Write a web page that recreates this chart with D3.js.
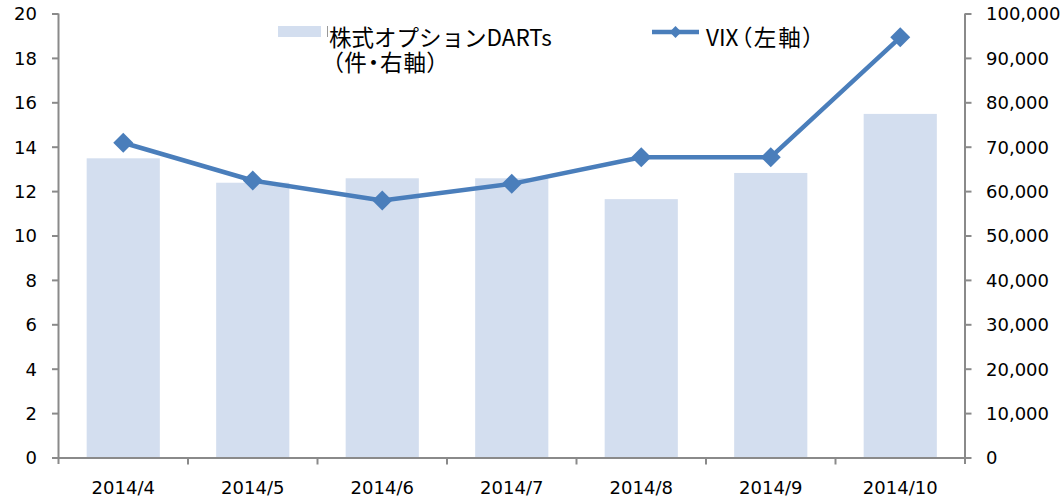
<!DOCTYPE html>
<html>
<head>
<meta charset="utf-8">
<script src="https://cdn.jsdelivr.net/npm/d3@7"></script>
<style>
  html, body { margin: 0; padding: 0; background: #ffffff; }
  svg { display: block; }
</style>
</head>
<body>
<svg id="chart" width="1060" height="502"></svg>
<script>
// ---- data ----
const categories = ["2014/4", "2014/5", "2014/6", "2014/7", "2014/8", "2014/9", "2014/10"];
const dartsValues = [67500, 62000, 63000, 63000, 58300, 64200, 77500];   // right axis (件)
const vixValues   = [14.2, 12.5, 11.6, 12.35, 13.55, 13.55, 18.95];       // left axis
const leftTicks  = [0, 2, 4, 6, 8, 10, 12, 14, 16, 18, 20];
const rightTicks = [0, 10000, 20000, 30000, 40000, 50000, 60000, 70000, 80000, 90000, 100000];
const legendBarLabel = ["株式オプションDARTs", "（件・右軸）"];
const legendLineLabel = ["VIX", "（左軸）"];

(function () {
// ---- layout ----
const svg = d3.select("#chart");
const pLeft = 58.5, pRight = 965, pTop = 14, pBottom = 458;
const axisColor = "#8a8a8a";
const barColor = "#d3deef";
const lineColor = "#4a7ebb";
const numFont = "'DejaVu Sans', sans-serif";
const cjkFont = "'Noto Sans CJK JP', sans-serif";

const x = d3.scaleBand().domain(categories).range([pLeft, pRight]).padding(0);
const yL = d3.scaleLinear().domain([0, 20]).range([pBottom, pTop]);
const yR = d3.scaleLinear().domain([0, 100000]).range([pBottom, pTop]);
const barW = x.bandwidth() * 0.565;

// bars
svg.append("g").selectAll("rect")
  .data(categories)
  .join("rect")
  .attr("x", (d) => x(d) + (x.bandwidth() - barW) / 2)
  .attr("y", (d, i) => yR(dartsValues[i]))
  .attr("width", barW)
  .attr("height", (d, i) => pBottom - yR(dartsValues[i]))
  .attr("fill", barColor);

// left axis
const gL = svg.append("g");
gL.append("line").attr("x1", pLeft).attr("x2", pLeft).attr("y1", pTop - 0.5).attr("y2", pBottom + 6)
  .attr("stroke", axisColor).attr("stroke-width", 2);
gL.selectAll("line.t").data(leftTicks).join("line").attr("class", "t")
  .attr("x1", pLeft - 6.5).attr("x2", pLeft)
  .attr("y1", (d) => yL(d)).attr("y2", (d) => yL(d))
  .attr("stroke", axisColor).attr("stroke-width", 2);
gL.selectAll("text").data(leftTicks).join("text")
  .attr("x", 37).attr("y", (d) => yL(d)).attr("dy", "0.36em")
  .attr("text-anchor", "end")
  .attr("font-family", numFont).attr("font-size", 18).attr("fill", "#000")
  .text((d) => d);

// right axis
const fmt = d3.format(",");
const gR = svg.append("g");
gR.append("line").attr("x1", pRight).attr("x2", pRight).attr("y1", pTop - 0.5).attr("y2", pBottom + 6)
  .attr("stroke", axisColor).attr("stroke-width", 2);
gR.selectAll("line.t").data(rightTicks).join("line").attr("class", "t")
  .attr("x1", pRight).attr("x2", pRight + 6.5)
  .attr("y1", (d) => yR(d)).attr("y2", (d) => yR(d))
  .attr("stroke", axisColor).attr("stroke-width", 2);
gR.selectAll("text").data(rightTicks).join("text")
  .attr("x", 986).attr("y", (d) => yR(d)).attr("dy", "0.36em")
  .attr("text-anchor", "start")
  .attr("font-family", numFont).attr("font-size", 18).attr("fill", "#000")
  .text((d) => fmt(d));

// x axis
const gX = svg.append("g");
gX.append("line").attr("x1", pLeft).attr("x2", pRight).attr("y1", pBottom).attr("y2", pBottom)
  .attr("stroke", axisColor).attr("stroke-width", 2);
const boundaries = categories.slice(1).map((d) => x(d));
gX.selectAll("line.t").data(boundaries).join("line").attr("class", "t")
  .attr("x1", (d) => d).attr("x2", (d) => d)
  .attr("y1", pBottom).attr("y2", pBottom + 6.5)
  .attr("stroke", axisColor).attr("stroke-width", 2);
gX.selectAll("text").data(categories).join("text")
  .attr("x", (d) => x(d) + x.bandwidth() / 2).attr("y", 488).attr("dy", "0.36em")
  .attr("text-anchor", "middle")
  .attr("font-family", numFont).attr("font-size", 18).attr("fill", "#000")
  .text((d) => d);

// VIX line
const line = d3.line()
  .x((d, i) => x(categories[i]) + x.bandwidth() / 2)
  .y((d) => yL(d));
svg.append("path").datum(vixValues)
  .attr("d", line)
  .attr("fill", "none").attr("stroke", lineColor).attr("stroke-width", 4.5)
  .attr("stroke-linejoin", "round");
const diamond = d3.symbol().type(d3.symbolSquare).size(200);
svg.append("g").selectAll("path").data(vixValues).join("path")
  .attr("d", diamond)
  .attr("transform", (d, i) => `translate(${x(categories[i]) + x.bandwidth() / 2},${yL(d)}) rotate(45)`)
  .attr("fill", lineColor);

// legend
const lg = svg.append("g");
lg.append("rect").attr("x", 278).attr("y", 26).attr("width", 43).attr("height", 11).attr("fill", barColor);
lg.append("line").attr("x1", 327.5).attr("x2", 327.5).attr("y1", 26).attr("y2", 37)
  .attr("stroke", "#999").attr("stroke-width", 1);
const t1 = lg.append("text")
  .attr("font-family", cjkFont).attr("font-size", 22.5).attr("fill", "#000");
t1.append("tspan").attr("x", 329).attr("y", 46).text(legendBarLabel[0]);
t1.append("tspan").attr("x", 332).attr("y", 71)
  .style("font-feature-settings", "'palt'").attr("letter-spacing", 1)
  .text(legendBarLabel[1]);
lg.append("line").attr("x1", 652).attr("x2", 699).attr("y1", 32).attr("y2", 32)
  .attr("stroke", lineColor).attr("stroke-width", 4.5);
lg.append("path").attr("d", d3.symbol().type(d3.symbolSquare).size(70))
  .attr("transform", "translate(675.5,32) rotate(45)").attr("fill", lineColor);
const t2 = lg.append("text").attr("x", 706).attr("y", 46)
  .attr("font-family", cjkFont).attr("font-size", 22.5).attr("fill", "#000")
  .style("font-feature-settings", "'palt'");
t2.append("tspan").text(legendLineLabel[0]);
t2.append("tspan").attr("dx", 2).attr("letter-spacing", 2).text(legendLineLabel[1]);
})();
</script>
</body>
</html>
